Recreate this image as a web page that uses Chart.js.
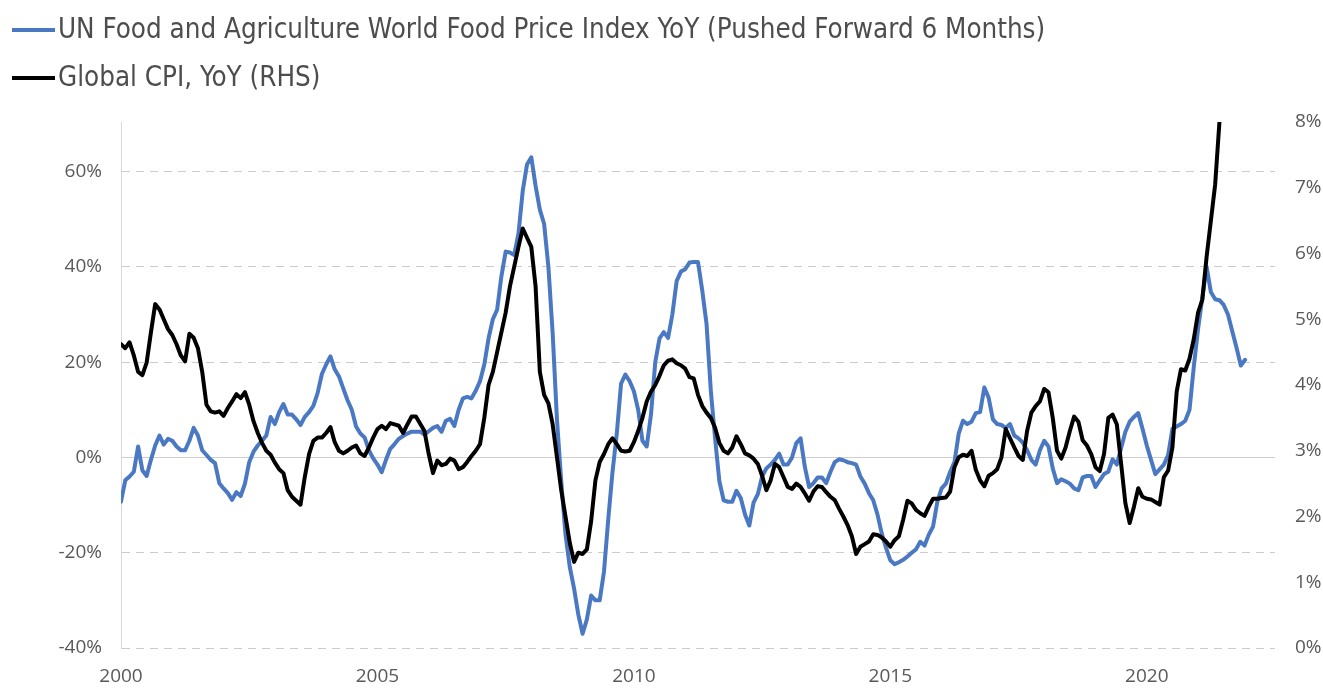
<!DOCTYPE html>
<html>
<head>
<meta charset="utf-8">
<script src="https://cdn.jsdelivr.net/npm/chart.js@4/dist/chart.umd.min.js"></script>
<style>
  html, body { margin: 0; padding: 0; background: #fff; }
</style>
</head>
<body>
<canvas id="foodCpiChart" width="1323" height="689"></canvas>
<script>
// monthly observations, first point = Jan 2000
const startYear = 2000;
const seriesNames = [
  "UN Food and Agriculture World Food Price Index YoY (Pushed Forward 6 Months)",
  "Global CPI, YoY (RHS)"
];

// FAO food price index YoY %, left axis
const foodYoY = [
  -9.3, -4.8, -4, -3, 2.3, -2.7, -3.9, -0.5, 2.5, 4.6, 2.7, 3.9,
  3.5, 2.3, 1.5, 1.5, 3.5, 6.2, 4.6, 1.5, 0.5, -0.5, -1.2, -5.4,
  -6.5, -7.5, -8.9, -7.3, -8.1, -5.5, -1, 1.2, 2.5, 3.5, 4.6, 8.5,
  7.0, 9.5, 11.2, 9, 9, 8, 6.8, 8.5, 9.5, 10.8, 13.5, 17.5,
  19.5, 21.2, 18.5, 17.0, 14.5, 12, 10, 6.5, 5, 4.2, 1.5, -0.2,
  -1.5, -3.1, -0.5, 1.8, 2.8, 3.9, 4.5, 5.0, 5.4, 5.4, 5.4, 4.8,
  5.5, 6.2, 6.6, 5.4, 7.7, 8.1, 6.6, 10, 12.4, 12.7, 12.4, 14,
  16, 19.5, 25, 29, 31, 38, 43.2, 43, 42.5, 47, 56, 61.5,
  63, 57, 52, 49, 40, 26, 8, -5, -16.2, -23, -27.5, -33,
  -37, -34, -29, -30, -30, -24, -13, -3, 5, 15.5, 17.4, 16,
  13.9, 10, 3.5, 2.3, 9, 20, 25, 26.3, 25.1, 30, 37, 39,
  39.5, 40.9, 41, 41, 35, 28, 14, 4, -5, -9, -9.3, -9.3,
  -7, -8.5, -12, -14.3, -9.5, -7.7, -4, -2.3, -1.5, -0.5, 0.8, -1.5,
  -1.5, 0, 3, 4, -2, -6.2, -5.4, -4.2, -4.2, -5.4, -3, -1,
  -0.4, -0.6, -1, -1.2, -1.5, -4, -5.5, -7.5, -9, -12, -16, -19,
  -21.6, -22.4, -22, -21.5, -20.8, -20, -19.3, -17.7, -18.5, -16.2, -14.5, -9.3,
  -6.5, -5.5, -3, -1, 5, 7.7, 7.0, 7.5, 9.3, 9.5, 14.7, 12.5,
  8, 7, 6.8, 6.2, 7, 4.6, 4, 3.1, 1.5, -0.5, -1.5, 1.5,
  3.5, 2.3, -2.3, -5.4, -4.6, -5, -5.5, -6.5, -6.9, -4.2, -3.9, -3.9,
  -6.2, -4.8, -3.5, -3, -0.4, -1.5, 2, 5.4, 7.5, 8.5, 9.3, 6,
  2.5, -0.5, -3.5, -2.5, -1.5, 0.5, 6.0, 6.5, 7, 7.7, 10, 19,
  27, 33.5, 40, 34.7, 33.2, 33, 32, 30, 26.5, 23, 19.3, 20.5
];

// global CPI YoY %, right axis
const cpiYoY = [
  4.62, 4.56, 4.65, 4.45, 4.2, 4.15, 4.34, 4.8, 5.23, 5.15, 5.0, 4.85,
  4.76, 4.62, 4.45, 4.36, 4.78, 4.72, 4.56, 4.2, 3.7, 3.6, 3.58, 3.6,
  3.53, 3.65, 3.75, 3.86, 3.8, 3.89, 3.7, 3.45, 3.27, 3.12, 3.0, 2.94,
  2.82, 2.72, 2.66, 2.4, 2.3, 2.24, 2.18, 2.6, 2.95, 3.15, 3.2, 3.2,
  3.27, 3.36, 3.13, 3.0, 2.96, 3.0, 3.05, 3.08, 2.96, 2.92, 3.05, 3.2,
  3.33, 3.38, 3.33, 3.42, 3.4, 3.38, 3.27, 3.4, 3.52, 3.52, 3.41, 3.3,
  2.95, 2.66, 2.85, 2.78, 2.8, 2.88, 2.85, 2.72, 2.75, 2.83, 2.92, 3.0,
  3.1, 3.5, 4.0, 4.2, 4.5, 4.8, 5.1, 5.5, 5.8, 6.1, 6.38, 6.24,
  6.1, 5.5, 4.2, 3.85, 3.72, 3.4, 2.9, 2.4, 2.0, 1.6, 1.31, 1.45,
  1.43, 1.5, 1.93, 2.55, 2.83, 2.95, 3.1, 3.19, 3.1, 3.0, 2.99, 3.0,
  3.13, 3.3, 3.5, 3.75, 3.9, 4.0, 4.14, 4.3, 4.37, 4.39, 4.33, 4.3,
  4.25, 4.12, 4.1, 3.85, 3.68, 3.58, 3.5, 3.35, 3.12, 3.0, 2.96, 3.05,
  3.22, 3.1, 2.96, 2.93, 2.88, 2.8, 2.62, 2.4, 2.55, 2.8, 2.75, 2.6,
  2.45, 2.42, 2.5, 2.45, 2.35, 2.24, 2.38, 2.46, 2.45, 2.37, 2.3, 2.25,
  2.12, 2.0, 1.87, 1.7, 1.43, 1.54, 1.58, 1.62, 1.73, 1.72, 1.68, 1.62,
  1.54, 1.64, 1.7, 1.95, 2.24, 2.2, 2.1, 2.05, 2.01, 2.15, 2.27, 2.27,
  2.28, 2.29, 2.38, 2.75, 2.9, 2.94, 2.92, 3.0, 2.71, 2.55, 2.46, 2.62,
  2.66, 2.72, 2.9, 3.33, 3.19, 3.05, 2.92, 2.86, 3.3, 3.58, 3.68, 3.75,
  3.94, 3.89, 3.5, 3.0, 2.88, 3.05, 3.3, 3.52, 3.44, 3.16, 3.08, 2.95,
  2.75, 2.69, 2.95, 3.5, 3.55, 3.4, 2.8, 2.2, 1.9, 2.15, 2.43, 2.3,
  2.27, 2.26, 2.22, 2.18, 2.6, 2.7, 3.05, 3.9, 4.24, 4.22, 4.4, 4.7,
  5.1, 5.3, 5.95, 6.5, 7.05, 8.0
];

const yearTicks = [2000, 2005, 2010, 2015, 2020];
const leftTicks = [-40, -20, 0, 20, 40, 60];
const rightTicks = [0, 1, 2, 3, 4, 5, 6, 7, 8];

const BLUE = "#4a78c2";
const GRID = "#cccccc";
const TICK_FONT = { family: "'Open Sans', 'DejaVu Sans', sans-serif", size: 19 };
const LEGEND_FONT = "27.5px 'Liberation Sans Narrow', 'DejaVu Sans Condensed', 'Open Sans', sans-serif";

const toPoints = (vals) => vals.map((v, i) => ({ x: startYear + i / 12, y: v }));

// solid zero line on the left axis (other gridlines are dashed)
const zeroLine = {
  id: "zeroLine",
  beforeDatasetsDraw(chart) {
    const { ctx, chartArea } = chart;
    const y = Math.round(chart.scales.y.getPixelForValue(0)) + 0.5;
    ctx.save();
    ctx.strokeStyle = "#cfcfcf";
    ctx.lineWidth = 1;
    ctx.beginPath();
    ctx.moveTo(chartArea.left, y);
    ctx.lineTo(chartArea.right, y);
    ctx.stroke();
    ctx.restore();
  }
};

// legend: one row per series, short line swatch then label
const lineLegend = {
  id: "lineLegend",
  afterDraw(chart) {
    const ctx = chart.ctx;
    ctx.save();
    ctx.font = LEGEND_FONT;
    ctx.textBaseline = "middle";
    ctx.textAlign = "left";
    chart.data.datasets.forEach((ds, i) => {
      const y = 30 + i * 48;
      ctx.strokeStyle = ds.borderColor;
      ctx.lineWidth = 4;
      ctx.beginPath();
      ctx.moveTo(12, y);
      ctx.lineTo(55, y);
      ctx.stroke();
      ctx.fillStyle = "#4d4d4d";
      ctx.fillText(ds.label, 58, y + 1);
    });
    ctx.restore();
  }
};

new Chart(document.getElementById("foodCpiChart"), {
  type: "line",
  data: {
    datasets: [
      {
        label: seriesNames[0],
        data: toPoints(foodYoY),
        yAxisID: "y",
        borderColor: BLUE,
        borderWidth: 4,
        order: 1
      },
      {
        label: seriesNames[1],
        data: toPoints(cpiYoY),
        yAxisID: "y1",
        borderColor: "#000000",
        borderWidth: 4,
        order: 0
      }
    ]
  },
  options: {
    responsive: false,
    animation: false,
    layout: { padding: { top: 122, left: 0, right: 0, bottom: 0 } },
    elements: {
      point: { radius: 0 },
      line: { tension: 0, borderJoinStyle: "round", borderCapStyle: "round" }
    },
    plugins: {
      legend: { display: false },
      tooltip: { enabled: false }
    },
    scales: {
      x: {
        type: "linear",
        min: 2000,
        max: 2022.5,
        afterBuildTicks: (s) => { s.ticks = yearTicks.map(v => ({ value: v })); },
        afterFit: (s) => { s.height = 41; },
        grid: { display: false, drawTicks: false },
        border: { display: false },
        ticks: {
          font: TICK_FONT,
          color: "#595959",
          padding: 17,
          maxRotation: 0,
          callback: (v) => String(v)
        }
      },
      y: {
        position: "left",
        min: -40,
        max: 70.4,
        bounds: "data",
        afterBuildTicks: (s) => { s.ticks = leftTicks.map(v => ({ value: v })); },
        afterFit: (s) => { s.width = 121; },
        grid: {
          color: (c) => (c.tick && c.tick.value === 0 ? "rgba(0,0,0,0)" : GRID),
          lineWidth: 1,
          drawTicks: false
        },
        border: { display: true, color: "#d9d9d9", width: 1, dash: [8, 6] },
        ticks: {
          font: TICK_FONT,
          color: "#595959",
          padding: 19,
          callback: (v) => v + "%"
        }
      },
      y1: {
        position: "right",
        min: 0,
        max: 8,
        afterBuildTicks: (s) => { s.ticks = rightTicks.map(v => ({ value: v })); },
        afterFit: (s) => { s.width = 48; },
        grid: { drawOnChartArea: false, drawTicks: false },
        border: { display: false },
        ticks: {
          font: TICK_FONT,
          color: "#595959",
          padding: 20,
          callback: (v) => v + "%"
        }
      }
    }
  },
  plugins: [zeroLine, lineLegend]
});
</script>
</body>
</html>
